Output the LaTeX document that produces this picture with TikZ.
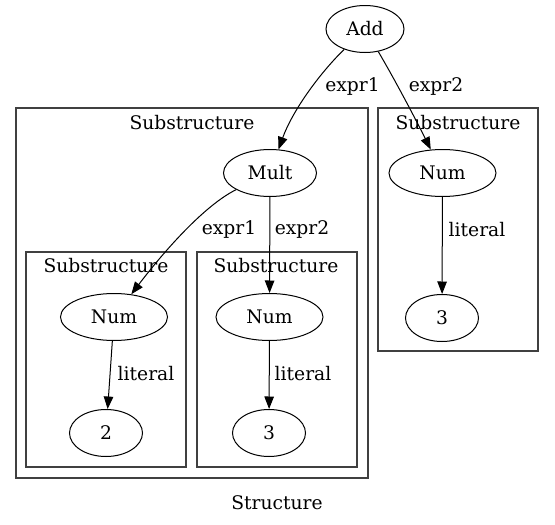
\documentclass[tikz,border=0pt]{standalone}
\usepackage{fontspec}
\setmainfont{DejaVu Serif}
\usetikzlibrary{arrows.meta, shapes.geometric}
\tikzset{
  term/.style = {draw, ellipse, line width=1pt, inner sep=0pt, minimum width=#1, minimum height=47pt},
  term/.default = 92pt,
  cluster/.style = {draw=black!75, line width=1.3pt},
  edge/.style = {-{Triangle[length=12.5pt, width=9.5pt]}, line width=1pt},
  lbl/.style = {inner sep=0pt}
}

\begin{document}
\begin{tikzpicture}[x=1pt, y=-1pt, font=\fontsize{18.7}{22}\selectfont]

    \useasboundingbox (0,0) rectangle (555,525);

    % Clusters
    \draw [cluster] (16,108) rectangle (368,478);
    \draw [cluster] (26,252) rectangle (186,467);
    \draw [cluster] (197,252) rectangle (357,467);
    \draw [cluster] (378,108) rectangle (538,351);

    \node [lbl] (bigtitle) at (192,123) {Substructure};
    \node [lbl] (lefttitle) at (106,266) {Substructure};
    \node [lbl] (midtitle) at (276,266) {Substructure};
    \node [lbl] (righttitle) at (458,123) {Substructure};
    \node [lbl] (structure) at (277,503) {Structure};

    % Place the nodes
    \node [term=78pt] (add) at (365,29) {Add};
    \node [term=93pt] (mult) at (270,173) {Mult};
    \node [term=107pt] (numleft) at (114,317) {Num};
    \node [term=107pt] (nummid) at (269.5,317) {Num};
    \node [term=107pt] (numright) at (442.5,173) {Num};
    \node [term=73pt] (two) at (106,433) {2};
    \node [term=73pt] (threemid) at (269,433) {3};
    \node [term=73pt] (threeright) at (442,318) {3};

    % Draw the arrows and label them
    \draw [edge] (add) .. controls (318,75) and (292,112) .. (mult);
    \draw [edge] (add) .. controls (395,80) and (415,118) .. (numright);
    \draw [edge] (mult) .. controls (205,205) and (165,250) .. (numleft);
    \draw [edge] (mult) -- (nummid);
    \draw [edge] (numleft) -- (two);
    \draw [edge] (nummid) -- (threemid);
    \draw [edge] (numright) -- (threeright);

    \node [lbl] (e1top) at (352.5,87) {expr1};
    \node [lbl] (e2top) at (436,87) {expr2};
    \node [lbl] (e1mid) at (229,230) {expr1};
    \node [lbl] (e2mid) at (302,230) {expr2};
    \node [lbl] (litleft) at (146,374) {literal};
    \node [lbl] (litmid) at (303,374) {literal};
    \node [lbl] (litright) at (477,230) {literal};

\end{tikzpicture}
\end{document}
